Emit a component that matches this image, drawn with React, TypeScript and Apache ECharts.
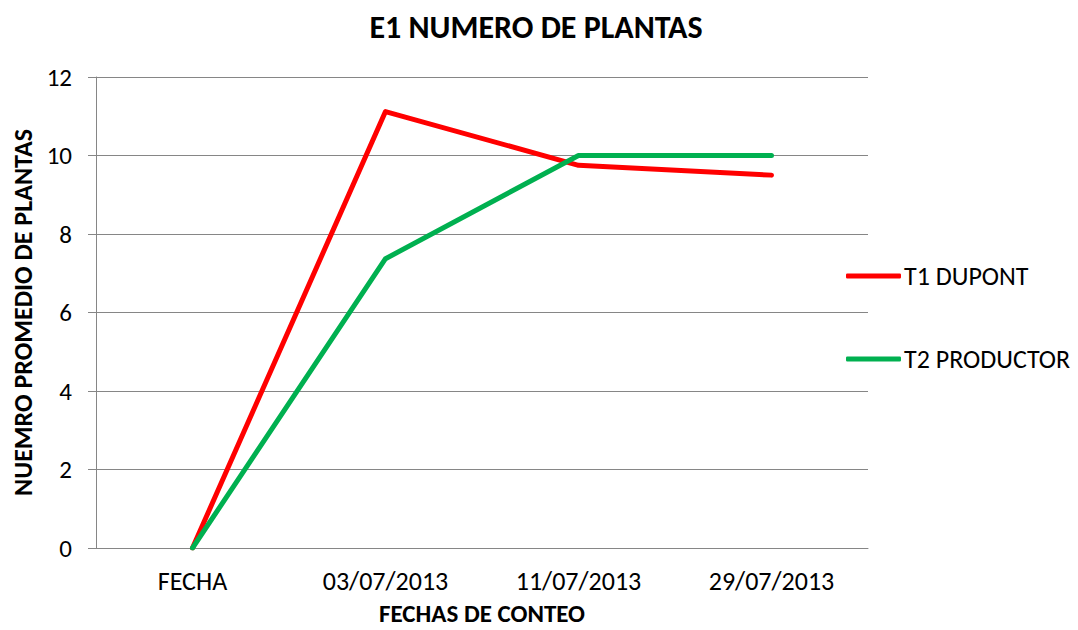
import React, { useEffect, useRef } from "react";
import * as echarts from "echarts";

const categories = ["FECHA", "03/07/2013", "11/07/2013", "29/07/2013"];
const t1Dupont = [0, 11.12, 9.75, 9.5];
const t2Productor = [0, 7.37, 10, 10];
const seriesNames = ["T1 DUPONT", "T2 PRODUCTOR"];
const yTicks = { min: 0, max: 12, interval: 2 };

const FONT = "Carlito, Lato, 'Liberation Sans', sans-serif";
const GRAY = "#868686";

export default function App() {
  const ref = useRef<HTMLDivElement>(null);
  useEffect(() => {
    document.body.style.margin = "0";
    const chart = echarts.init(ref.current!, null, { renderer: "svg" });
    chart.setOption({
      animation: false,
      backgroundColor: "#ffffff",
      title: {
        text: "E1 NUMERO DE PLANTAS",
        left: 531,
        textAlign: "center",
        top: 6,
        textStyle: { fontFamily: FONT, fontSize: 32, fontWeight: "bold", color: "#000" },
      },
      grid: { left: 96, right: 210, top: 77, bottom: 82, containLabel: false, outerBoundsMode: "none" },
      legend: {
        orient: "vertical",
        left: 846,
        top: 261,
        padding: 0,
        itemWidth: 55,
        itemHeight: 5,
        itemGap: 53,
        icon: "roundRect",
        textStyle: { fontFamily: FONT, fontSize: 26, color: "#000", lineHeight: 30, padding: [0, 0, 0, -2] },
        data: seriesNames,
      },
      xAxis: {
        type: "category",
        data: categories,
        boundaryGap: true,
        name: "FECHAS DE CONTEO",
        nameLocation: "middle",
        nameGap: 53,
        nameTextStyle: { fontFamily: FONT, fontSize: 25, fontWeight: "bold", color: "#000" },
        axisLine: { lineStyle: { color: GRAY, width: 1 } },
        axisTick: { show: false },
        axisLabel: { fontFamily: FONT, fontSize: 26, color: "#000", margin: 20 },
      },
      yAxis: {
        type: "value",
        min: yTicks.min,
        max: yTicks.max,
        interval: yTicks.interval,
        name: "NUEMRO PROMEDIO DE PLANTAS",
        nameLocation: "middle",
        nameRotate: 90,
        nameGap: 56,
        nameTextStyle: { fontFamily: FONT, fontSize: 26, fontWeight: "bold", color: "#000" },
        axisLine: { show: true, lineStyle: { color: GRAY, width: 1 } },
        axisTick: { show: true, length: 8, lineStyle: { color: GRAY } },
        axisLabel: { fontFamily: FONT, fontSize: 25, color: "#000", margin: 24 },
        splitLine: { lineStyle: { color: GRAY, width: 1 } },
      },
      series: [
        {
          name: seriesNames[0],
          type: "line",
          data: t1Dupont,
          showSymbol: false,
          symbol: "none",
          color: "#FF0000",
          lineStyle: { width: 5, color: "#FF0000", cap: "round", join: "round" },
        },
        {
          name: seriesNames[1],
          type: "line",
          data: t2Productor,
          showSymbol: false,
          symbol: "none",
          color: "#00B050",
          lineStyle: { width: 5, color: "#00B050", cap: "round", join: "round" },
        },
      ],
    });
    return () => chart.dispose();
  }, []);
  return <div ref={ref} style={{ width: 1078, height: 630, position: "absolute", left: 0, top: 0 }} />;
}
